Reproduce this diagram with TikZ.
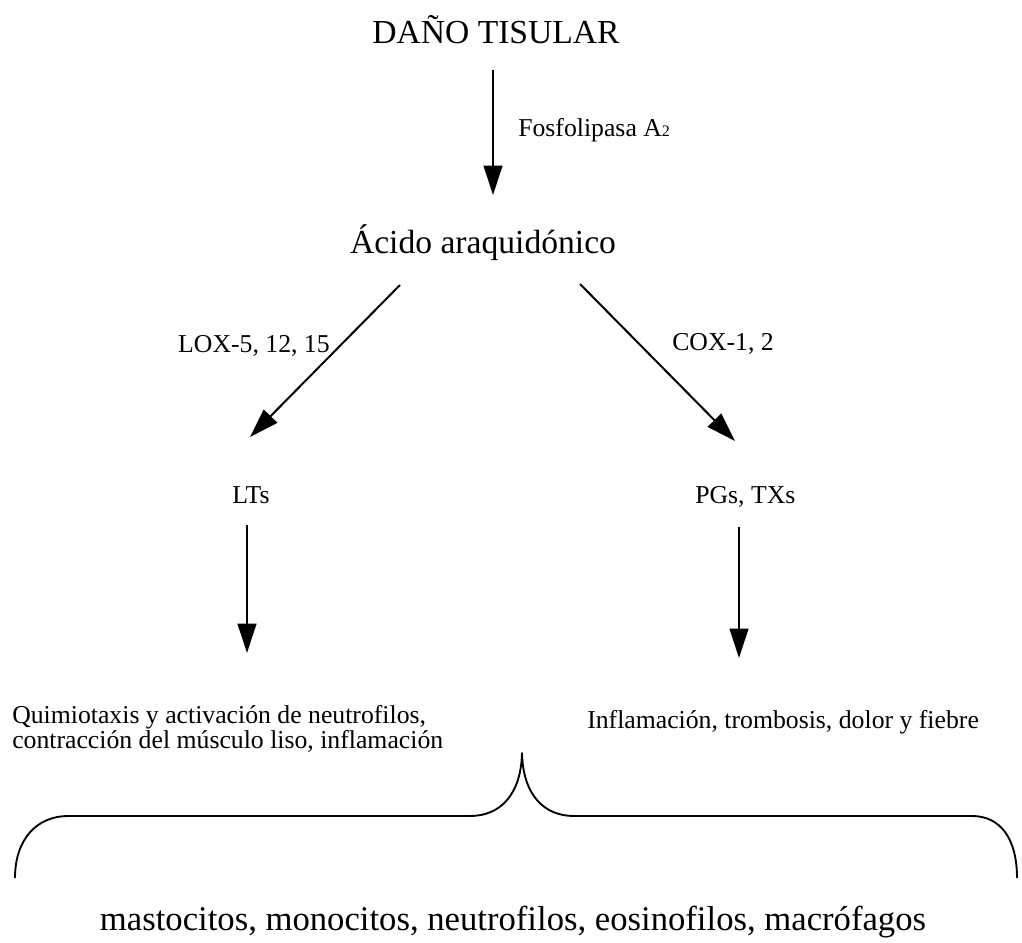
\documentclass[tikz,border=0pt]{standalone}
\usepackage{fontspec}
\setmainfont{Liberation Serif}
\usetikzlibrary{arrows.meta,calc}
\begin{document}
\begin{tikzpicture}[x=0.75pt,y=-0.75pt,
  bigtext/.style={font=\fontsize{25.2}{30}\selectfont,inner sep=0pt},
  smalltext/.style={font=\fontsize{19.3}{17.3}\selectfont,inner sep=0pt},
  flowarrow/.style={line width=1.5pt,-{Triangle[length=22pt,width=14pt]}},
  bracepath/.style={line width=1.4pt,line join=round}]
\fill[white] (0,0) rectangle (1022,943);
\useasboundingbox (0,0) rectangle (1022,943);

\node[bigtext,anchor=base] (dano) at (496,43) {DAÑO TISULAR};
\node[smalltext,anchor=base west] (fosfo) at (518,136) {Fosfolipasa A{\fontsize{12}{12}\selectfont 2}};
\node[bigtext,anchor=base] (acido) at (483,253) {Ácido araquidónico};
\node[smalltext,anchor=base east] (lox) at (330,352) {LOX-5, 12, 15};
\node[smalltext,anchor=base west] (cox) at (672,350) {COX-1, 2};
\node[smalltext,anchor=base] (lts) at (251,503) {LTs};
\node[smalltext,anchor=base west] (pgs) at (695,503) {PGs, TXs};
\node[smalltext,anchor=base west,align=left] (lteff) at (12,748) {Quimiotaxis y activación de neutrofilos,\\contracción del músculo liso, inflamación};
\node[smalltext,anchor=base west] (pgeff) at (587,728) {Inflamación, trombosis, dolor y fiebre};
\node[font=\fontsize{26}{30}\selectfont,inner sep=0pt,anchor=base] (cells) at (513,930) {mastocitos, monocitos, neutrofilos, eosinofilos, macrófagos};

\draw[flowarrow] ($(dano.base)+(-3,27)$) -- ($(acido.base)+(10,-58)$);
\draw[flowarrow] ($(acido.base)+(-83,32)$) -- ($(lts.base)+(-1,-66)$);
\draw[flowarrow] ($(acido.base)+(97,31)$) -- ($(pgs.base west)+(40,-62)$);
\draw[flowarrow] ($(lts.base)+(-4,22)$) -- ($(lteff.base west)+(235,-95)$);
\draw[flowarrow] ($(pgs.base west)+(44,24)$) -- ($(pgeff.base west)+(152,-70)$);

\draw[bracepath] (15,878) .. controls (15,838) and (38,816) .. (68,816) -- (470,816)
  .. controls (500,816) and (521,795) .. (522,753)
  .. controls (523,795) and (544,816) .. (574,816) -- (972,816)
  .. controls (1000,816) and (1017,838) .. (1017,878);
\end{tikzpicture}
\end{document}
